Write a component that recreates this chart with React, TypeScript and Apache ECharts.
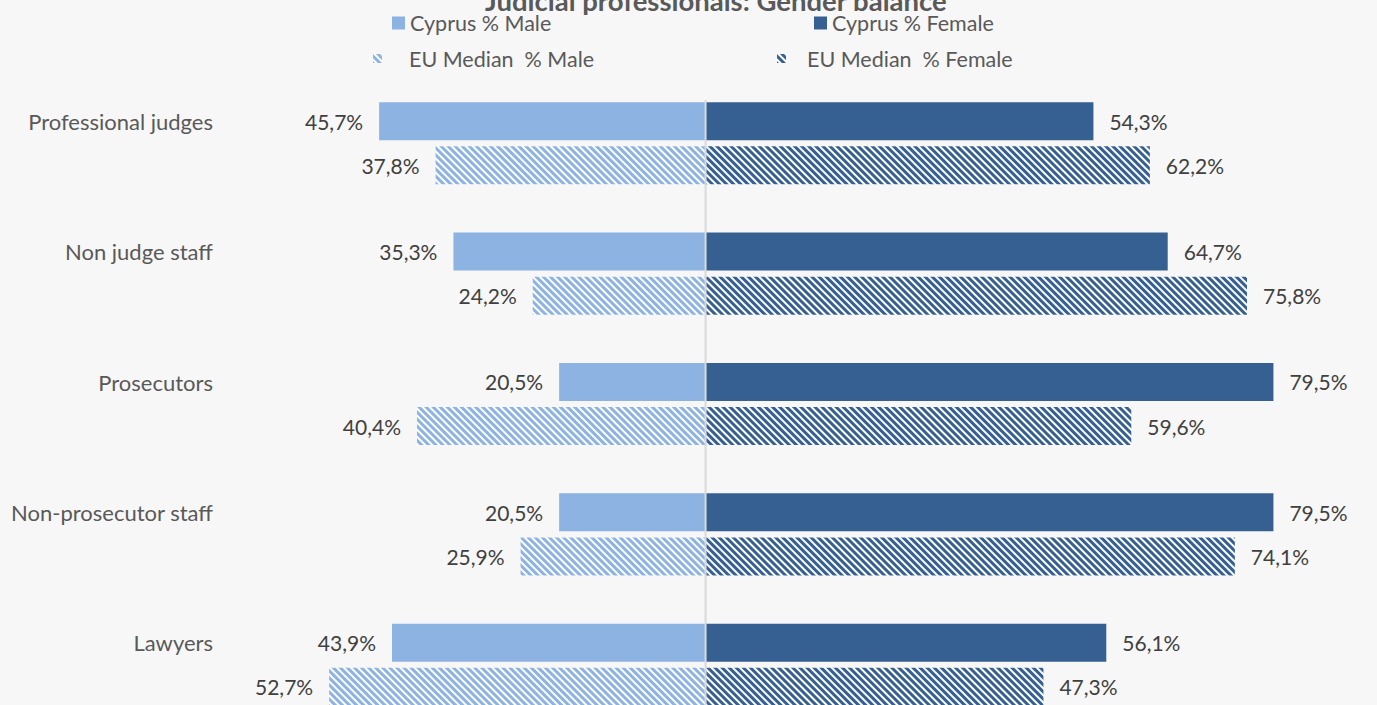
import React, { useEffect, useRef } from "react";
import * as echarts from "echarts";

const categories = [
  "Professional judges",
  "Non judge staff",
  "Prosecutors",
  "Non-prosecutor staff",
  "Lawyers",
];
const cyprusMale = [45.7, 35.3, 20.5, 20.5, 43.9];
const cyprusFemale = [54.3, 64.7, 79.5, 79.5, 56.1];
const euMale = [37.8, 24.2, 40.4, 25.9, 52.7];
const euFemale = [62.2, 75.8, 59.6, 74.1, 47.3];

const seriesNames = [
  "Cyprus % Male",
  "Cyprus % Female",
  "EU Median  % Male",
  "EU Median  % Female",
];

const LIGHT = "#8DB3E2";
const DARK = "#366092";
const FONT = "Lato, 'Liberation Sans', sans-serif";

const fmt = (p: any) =>
  Math.abs(p.value).toFixed(1).replace(".", ",") + "%";

const hatch = (color: string) => ({
  color,
  symbol: "rect",
  symbolSize: 1,
  dashArrayX: [1, 0],
  dashArrayY: [2.2, 1.7],
  rotation: Math.PI / 4,
});

export default function App() {
  const ref = useRef<HTMLDivElement>(null);
  useEffect(() => {
    if (!ref.current) return;
    const chart = echarts.init(ref.current, null, { renderer: "svg" });
    const label = (pos: string) => ({
      show: true,
      position: pos,
      distance: 16,
      formatter: fmt,
      fontFamily: FONT,
      fontSize: 21,
      color: "#404040",
    });
    const legendText = (pad: number[]) => ({
      fontFamily: FONT,
      fontSize: 21.5,
      lineHeight: 22,
      color: "#595959",
      padding: pad,
    });
    chart.setOption({
      animation: false,
      backgroundColor: "#F7F7F7",
      title: {
        text: "Judicial professionals: Gender balance",
        left: 480,
        top: -19,
        textStyle: {
          fontFamily: FONT,
          fontSize: 27.5,
          fontWeight: "bold",
          color: "#595959",
        },
      },
      legend: [
        {
          data: [seriesNames[0]],
          left: 387,
          top: 7,
          icon: "rect",
          itemWidth: 13,
          itemHeight: 13,
          textStyle: legendText([0, 0, 0, 0]),
        },
        {
          data: [seriesNames[1]],
          left: 809,
          top: 7,
          icon: "rect",
          itemWidth: 13,
          itemHeight: 13,
          textStyle: legendText([0, 0, 0, 0]),
        },
        {
          data: [seriesNames[2]],
          left: 368,
          top: 36,
          icon: "rect",
          itemWidth: 9,
          itemHeight: 9,
          textStyle: legendText([13, 0, 0, 22]),
        },
        {
          data: [seriesNames[3]],
          left: 772,
          top: 36,
          icon: "rect",
          itemWidth: 9,
          itemHeight: 9,
          textStyle: legendText([13, 0, 0, 16]),
        },
      ],
      grid: {
        left: 277,
        right: 100,
        top: 78,
        height: 652,
        outerBoundsMode: "none",
        containLabel: false,
      },
      xAxis: {
        type: "value",
        min: -60,
        max: 80,
        show: false,
      },
      yAxis: {
        type: "category",
        data: categories,
        inverse: true,
        axisLine: { show: false },
        axisTick: { show: false },
        splitLine: { show: false },
        axisLabel: {
          margin: 64,
          fontFamily: FONT,
          fontSize: 22,
          color: "#595959",
          verticalAlign: "bottom",
          lineHeight: 44,
        },
      },
      series: [
        {
          name: seriesNames[0],
          type: "bar",
          stack: "cy",
          barWidth: 38,
          barGap: "16%",
          data: cyprusMale.map((v) => -v),
          itemStyle: { color: LIGHT },
          label: label("left"),
        },
        {
          name: seriesNames[1],
          type: "bar",
          stack: "cy",
          barWidth: 38,
          barGap: "16%",
          data: cyprusFemale,
          itemStyle: { color: DARK },
          label: label("right"),
        },
        {
          name: seriesNames[2],
          type: "bar",
          stack: "eu",
          barWidth: 38,
          barGap: "16%",
          data: euMale.map((v) => -v),
          itemStyle: { color: "#FFFFFF", decal: hatch(LIGHT) },
          label: label("left"),
        },
        {
          name: seriesNames[3],
          type: "bar",
          stack: "eu",
          barWidth: 38,
          barGap: "16%",
          data: euFemale,
          itemStyle: { color: "#FFFFFF", decal: hatch(DARK) },
          label: label("right"),
        },
      ],
    });
    const x0 = chart.convertToPixel({ xAxisIndex: 0 }, 0) as number;
    chart.setOption({
      graphic: [
        {
          type: "line",
          z: 100,
          shape: { x1: x0, y1: 100, x2: x0, y2: 705 },
          style: { stroke: "#D9D9D9", lineWidth: 2 },
        },
      ],
    });
    return () => chart.dispose();
  }, []);
  return (
    <div
      ref={ref}
      style={{ position: "fixed", left: 0, top: 0, width: 1377, height: 705 }}
    />
  );
}
